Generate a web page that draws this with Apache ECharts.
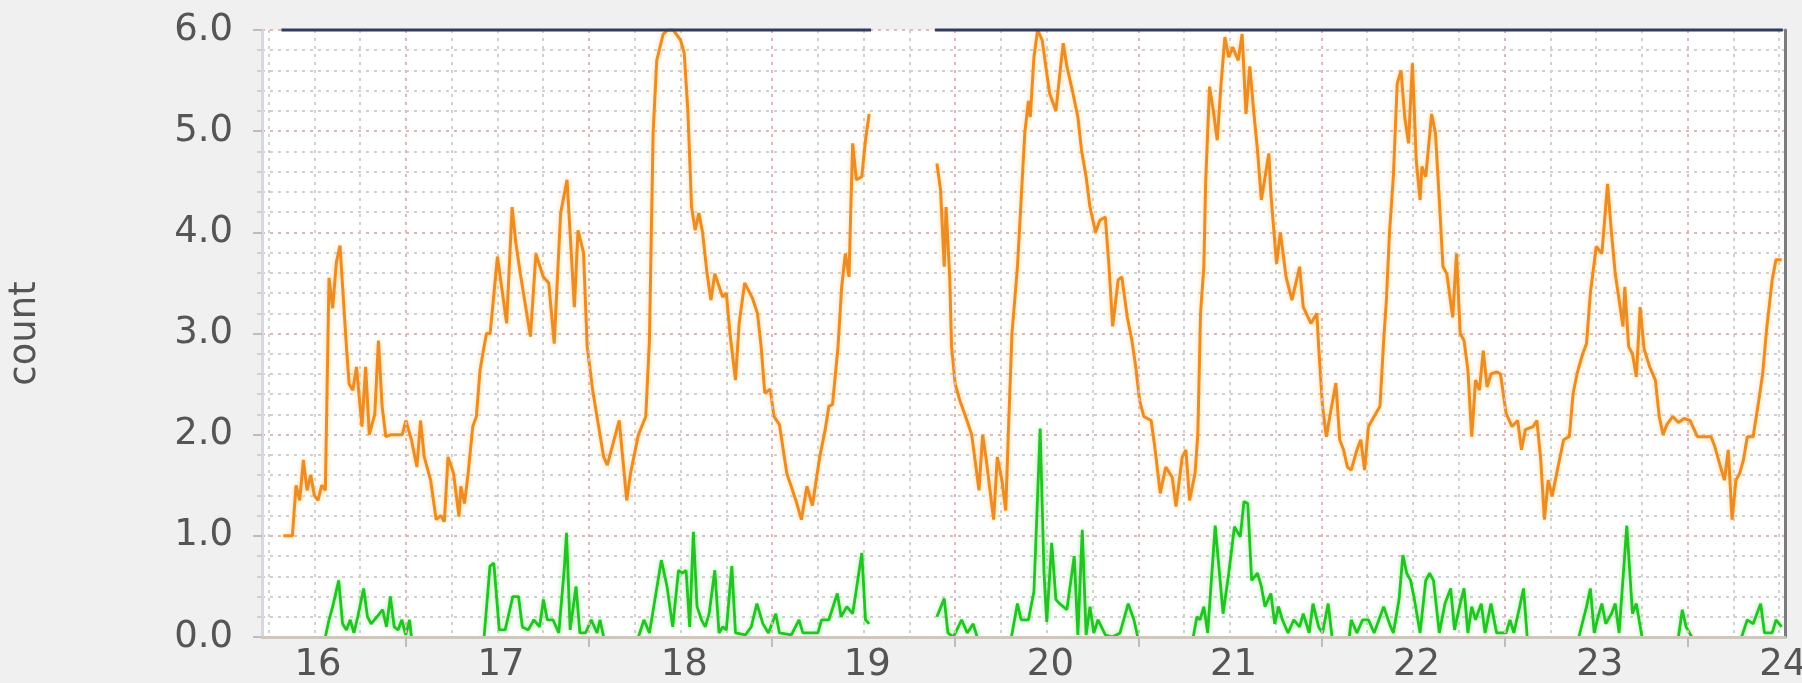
<!DOCTYPE html>
<html>
<head>
<meta charset="utf-8">
<title>count</title>
<script src="https://cdn.jsdelivr.net/npm/echarts@6/dist/echarts.min.js"></script>
<style>
  html, body { margin: 0; padding: 0; background: #f0f0f0; }
  #chart { width: 1802px; height: 683px; }
</style>
</head>
<body>
<div id="chart"></div>
<script>
// time is in days of the month, value is count
const dayLabels = [16, 17, 18, 19, 20, 21, 22, 23, 24];
const xMin = 15.694;
const xMax = 24.012;
const gapAt = 19.2;

const orangeBeforeGap = [
  [15.81, 1.0], [15.86, 1.0], [15.88, 1.5], [15.90, 1.35], [15.92, 1.75], [15.94, 1.45], [15.96, 1.6], [15.98, 1.4],
  [16.00, 1.35], [16.02, 1.5], [16.04, 1.45], [16.06, 3.55], [16.08, 3.25], [16.10, 3.7], [16.12, 3.87], [16.155, 2.87],
  [16.17, 2.5], [16.19, 2.44], [16.21, 2.67], [16.24, 2.08], [16.26, 2.67], [16.28, 2.0], [16.31, 2.2], [16.33, 2.93],
  [16.35, 2.28], [16.37, 1.98], [16.40, 2.0], [16.43, 2.0], [16.46, 2.0], [16.48, 2.14], [16.51, 1.95], [16.54, 1.68],
  [16.56, 2.14], [16.58, 1.78], [16.615, 1.55], [16.645, 1.16], [16.67, 1.2], [16.69, 1.14], [16.71, 1.78], [16.74, 1.62],
  [16.77, 1.19], [16.78, 1.49], [16.80, 1.32], [16.82, 1.62], [16.845, 2.08], [16.865, 2.18], [16.885, 2.64], [16.90, 2.8],
  [16.92, 3.0], [16.94, 3.0], [16.98, 3.76], [17.03, 3.1], [17.06, 4.25], [17.08, 3.9], [17.105, 3.59], [17.16, 2.97],
  [17.19, 3.79], [17.23, 3.56], [17.26, 3.5], [17.29, 2.9], [17.325, 4.19], [17.36, 4.52], [17.40, 3.26], [17.42, 4.02],
  [17.45, 3.8], [17.47, 2.87], [17.50, 2.44], [17.54, 2.0], [17.56, 1.78], [17.58, 1.7], [17.645, 2.14], [17.686, 1.35],
  [17.707, 1.62], [17.75, 2.0], [17.79, 2.18], [17.81, 2.93], [17.83, 4.98], [17.85, 5.7], [17.885, 5.96], [17.91, 6.0],
  [17.94, 6.0], [17.98, 5.9], [18.00, 5.77], [18.02, 5.2], [18.04, 4.25], [18.06, 4.02], [18.08, 4.19], [18.10, 4.0],
  [18.125, 3.59], [18.146, 3.33], [18.167, 3.59], [18.21, 3.36], [18.23, 3.4], [18.25, 3.0], [18.28, 2.54], [18.30, 3.1],
  [18.33, 3.5], [18.37, 3.36], [18.40, 3.2], [18.42, 2.87], [18.44, 2.41], [18.47, 2.45], [18.49, 2.18], [18.52, 2.1],
  [18.56, 1.62], [18.61, 1.35], [18.64, 1.16], [18.67, 1.49], [18.70, 1.3], [18.74, 1.78], [18.77, 2.05], [18.79, 2.28],
  [18.81, 2.3], [18.84, 2.87], [18.86, 3.46], [18.88, 3.79], [18.90, 3.56], [18.91, 4.25], [18.92, 4.88], [18.94, 4.52],
  [18.97, 4.55], [18.99, 4.91], [19.01, 5.17]
];

const orangeAfterGap = [
  [19.38, 4.68], [19.40, 4.42], [19.42, 3.66], [19.43, 4.25], [19.45, 3.56], [19.46, 2.87], [19.48, 2.5], [19.505, 2.34],
  [19.55, 2.11], [19.57, 2.0], [19.61, 1.45], [19.63, 2.0], [19.65, 1.75], [19.67, 1.45], [19.69, 1.16], [19.71, 1.78],
  [19.735, 1.55], [19.756, 1.25], [19.77, 2.0], [19.79, 3.0], [19.82, 3.66], [19.84, 4.32], [19.86, 4.98], [19.88, 5.3],
  [19.89, 5.14], [19.91, 5.73], [19.93, 6.0], [19.955, 5.9], [19.975, 5.64], [19.996, 5.37], [20.03, 5.2], [20.05, 5.54],
  [20.07, 5.87], [20.09, 5.64], [20.12, 5.4], [20.15, 5.14], [20.17, 4.81], [20.195, 4.55], [20.216, 4.25], [20.247, 4.0],
  [20.27, 4.12], [20.30, 4.15], [20.32, 3.66], [20.34, 3.07], [20.37, 3.53], [20.39, 3.56], [20.42, 3.16], [20.445, 2.93],
  [20.466, 2.67], [20.487, 2.34], [20.51, 2.18], [20.55, 2.14], [20.57, 1.88], [20.60, 1.42], [20.63, 1.68], [20.665, 1.58],
  [20.686, 1.29], [20.72, 1.78], [20.74, 1.85], [20.76, 1.35], [20.79, 1.62], [20.805, 2.0], [20.82, 3.2], [20.838, 3.66],
  [20.848, 4.5], [20.869, 5.44], [20.89, 5.2], [20.911, 4.91], [20.932, 5.47], [20.953, 5.93], [20.974, 5.73], [20.995, 5.83],
  [21.026, 5.7], [21.047, 5.96], [21.068, 5.17], [21.089, 5.64], [21.11, 5.2], [21.131, 4.81], [21.152, 4.32], [21.193, 4.78],
  [21.204, 4.38], [21.235, 3.69], [21.256, 4.0], [21.287, 3.56], [21.319, 3.33], [21.361, 3.66], [21.381, 3.26], [21.423, 3.1],
  [21.455, 3.2], [21.465, 2.87], [21.486, 2.28], [21.507, 1.98], [21.528, 2.2], [21.559, 2.51], [21.58, 1.95], [21.601, 1.85],
  [21.622, 1.68], [21.643, 1.65], [21.674, 1.85], [21.695, 1.95], [21.716, 1.65], [21.737, 2.08], [21.768, 2.18], [21.8, 2.28],
  [21.82, 2.93], [21.835, 3.33], [21.852, 4.0], [21.873, 4.55], [21.894, 5.47], [21.915, 5.6], [21.935, 5.14], [21.956, 4.88],
  [21.977, 5.67], [21.998, 4.71], [22.019, 4.32], [22.029, 4.65], [22.05, 4.55], [22.082, 5.17], [22.103, 4.98], [22.124, 4.32],
  [22.144, 3.66], [22.165, 3.59], [22.197, 3.16], [22.218, 3.79], [22.238, 3.0], [22.259, 2.93], [22.28, 2.64], [22.301, 1.98],
  [22.322, 2.54], [22.343, 2.44], [22.364, 2.83], [22.385, 2.47], [22.406, 2.6], [22.437, 2.62], [22.458, 2.6], [22.489, 2.21],
  [22.521, 2.08], [22.552, 2.14], [22.573, 1.85], [22.594, 2.05], [22.636, 2.08], [22.657, 2.14], [22.678, 1.75], [22.698, 1.16],
  [22.719, 1.55], [22.74, 1.39], [22.772, 1.68], [22.803, 1.95], [22.834, 1.98], [22.855, 2.41], [22.876, 2.6], [22.907, 2.8],
  [22.928, 2.9], [22.949, 3.4], [22.981, 3.86], [23.012, 3.79], [23.043, 4.48], [23.064, 4.0], [23.085, 3.59], [23.106, 3.33],
  [23.127, 3.07], [23.137, 3.46], [23.158, 2.87], [23.179, 2.8], [23.2, 2.57], [23.221, 3.26], [23.242, 2.85], [23.273, 2.67],
  [23.304, 2.54], [23.325, 2.18], [23.346, 2.0], [23.367, 2.1], [23.399, 2.18], [23.43, 2.12], [23.461, 2.16], [23.493, 2.14],
  [23.534, 1.98], [23.576, 1.98], [23.608, 1.98], [23.629, 1.88], [23.66, 1.68], [23.681, 1.55], [23.702, 1.85], [23.723, 1.16],
  [23.744, 1.55], [23.765, 1.62], [23.785, 1.75], [23.806, 1.98], [23.838, 1.98], [23.869, 2.34], [23.89, 2.6], [23.911, 3.03],
  [23.942, 3.53], [23.963, 3.73], [23.994, 3.73]
];

const greenBeforeGap = [
  [15.81, 0], [16.04, 0], [16.06, 0.17], [16.08, 0.3], [16.113, 0.56], [16.134, 0.13], [16.155, 0.07], [16.176, 0.17],
  [16.196, 0.04], [16.217, 0.2], [16.249, 0.48], [16.27, 0.2], [16.29, 0.13], [16.322, 0.2], [16.353, 0.27], [16.374, 0.1],
  [16.395, 0.4], [16.416, 0.1], [16.437, 0.07], [16.458, 0.17], [16.479, 0.02], [16.5, 0.17], [16.51, 0], [16.907, 0],
  [16.939, 0.7], [16.96, 0.73], [16.99, 0.07], [17.022, 0.07], [17.064, 0.4], [17.095, 0.4], [17.116, 0.1], [17.148, 0.07],
  [17.179, 0.17], [17.21, 0.1], [17.231, 0.37], [17.252, 0.17], [17.283, 0.17], [17.315, 0.04], [17.346, 0.7], [17.357, 1.03],
  [17.377, 0.07], [17.409, 0.5], [17.43, 0.04], [17.461, 0.04], [17.492, 0.17], [17.524, 0.04], [17.54, 0.17], [17.56, 0],
  [17.75, 0], [17.78, 0.17], [17.81, 0.04], [17.84, 0.37], [17.875, 0.76], [17.906, 0.5], [17.937, 0.1], [17.969, 0.66],
  [17.99, 0.63], [18.01, 0.66], [18.03, 0.1], [18.05, 1.04], [18.07, 0.3], [18.094, 0.17], [18.115, 0.1], [18.136, 0.23],
  [18.167, 0.66], [18.19, 0.04], [18.21, 0.1], [18.23, 0.07], [18.26, 0.7], [18.28, 0.04], [18.334, 0.02], [18.366, 0.1],
  [18.397, 0.33], [18.43, 0.13], [18.46, 0.04], [18.50, 0.23], [18.52, 0.04], [18.585, 0.02], [18.627, 0.17], [18.648, 0.04],
  [18.73, 0.04], [18.75, 0.17], [18.79, 0.17], [18.836, 0.43], [18.857, 0.2], [18.888, 0.3], [18.92, 0.23], [18.97, 0.83],
  [18.99, 0.17], [19.01, 0.13]
];

const greenAfterGap = [
  [19.38, 0.2], [19.42, 0.38], [19.44, 0.04], [19.47, 0], [19.515, 0.17], [19.546, 0.04], [19.578, 0.13], [19.6, 0],
  [19.787, 0], [19.82, 0.33], [19.84, 0.17], [19.88, 0.17], [19.91, 0.45], [19.944, 2.06], [19.965, 0.63], [19.98, 0.15],
  [20.007, 0.93], [20.03, 0.37], [20.05, 0.33], [20.09, 0.27], [20.13, 0.8], [20.15, 0.02], [20.174, 1.06], [20.195, 0.02],
  [20.216, 0.3], [20.237, 0.04], [20.26, 0.17], [20.3, 0.02], [20.34, 0], [20.38, 0.04], [20.425, 0.33], [20.456, 0.17],
  [20.477, 0], [20.78, 0], [20.80, 0.2], [20.817, 0.17], [20.838, 0.3], [20.859, 0.04], [20.90, 1.1], [20.943, 0.23],
  [20.974, 0.63], [21.005, 1.09], [21.037, 0.99], [21.057, 1.34], [21.078, 1.32], [21.099, 0.56], [21.131, 0.63], [21.152, 0.5],
  [21.172, 0.3], [21.204, 0.43], [21.225, 0.13], [21.246, 0.3], [21.267, 0.17], [21.298, 0.04], [21.329, 0.17], [21.361, 0.1],
  [21.381, 0.23], [21.413, 0.04], [21.434, 0.33], [21.465, 0.1], [21.486, 0.04], [21.517, 0.33], [21.538, 0], [21.632, 0],
  [21.643, 0.17], [21.674, 0.04], [21.705, 0.17], [21.737, 0.17], [21.768, 0.04], [21.82, 0.3], [21.852, 0.13], [21.873, 0.04],
  [21.904, 0.37], [21.925, 0.81], [21.946, 0.63], [21.967, 0.56], [21.988, 0.37], [22.019, 0.04], [22.05, 0.56], [22.071, 0.63],
  [22.092, 0.56], [22.124, 0.04], [22.155, 0.33], [22.186, 0.48], [22.207, 0.07], [22.238, 0.33], [22.259, 0.48], [22.28, 0.04],
  [22.301, 0.3], [22.322, 0.17], [22.353, 0.33], [22.374, 0.04], [22.406, 0.33], [22.437, 0.04], [22.489, 0.04], [22.51, 0.17],
  [22.531, 0.04], [22.563, 0.3], [22.584, 0.48], [22.604, 0], [22.886, 0], [22.928, 0.3], [22.949, 0.48], [22.97, 0.04],
  [22.991, 0.2], [23.012, 0.33], [23.033, 0.13], [23.064, 0.23], [23.085, 0.33], [23.106, 0.04], [23.148, 1.1], [23.179, 0.23],
  [23.2, 0.33], [23.231, 0], [23.43, 0], [23.451, 0.27], [23.472, 0.1], [23.503, 0], [23.775, 0], [23.806, 0.17],
  [23.838, 0.13], [23.879, 0.33], [23.9, 0.04], [23.942, 0.04], [23.963, 0.17], [23.994, 0.1]
];

// third line sits at or above the top of the scale
const topBeforeGap = [[15.80, 6], [19.02, 6]];
const topAfterGap = [[19.37, 6], [24.0, 6]];

// grid: major lines every day, minor every 6 hours
const majorLines = [];
for (let d = 16; d <= 23; d++) majorLines.push(d + 0.48);
const minorLines = [];
for (let k = 0; 15.73 + k * 0.25 < xMax; k++) minorLines.push(+(15.73 + k * 0.25).toFixed(2));

const withGap = (a, b) => a.concat([[gapAt, null]], b);

// a run of zeros lies under the axis line, so leave it undrawn
function hideZeroRuns(points) {
  const out = [];
  points.forEach((p, i) => {
    const prev = points[i - 1];
    if (prev && prev[1] === 0 && p[1] === 0) out.push([(prev[0] + p[0]) / 2, null]);
    out.push(p);
  });
  return out;
}

const textFont = 'DejaVu Sans';
const majorGrid = { color: '#dcb8b8', width: 2, type: [3, 5] };
const minorGrid = { color: '#d0d0d0', width: 2, type: [3, 5] };

const myChart = echarts.init(document.getElementById('chart'));
const option = {
  backgroundColor: '#f0f0f0',
  animation: false,
  grid: {
    left: 262, right: 17, top: 30, bottom: 46,
    show: true, backgroundColor: '#ffffff', borderWidth: 0,
    containLabel: false, outerBoundsMode: 'none'
  },
  xAxis: [
    {
      type: 'value', min: xMin, max: xMax, z: 3,
      axisLine: { show: true, onZero: false, lineStyle: { color: '#cfc7be', width: 3 } },
      axisTick: { show: true, customValues: majorLines, length: 10, lineStyle: { color: '#bdbdbd', width: 2 } },
      axisLabel: {
        customValues: dayLabels,
        formatter: v => String(Math.round(v)),
        fontSize: 37, color: '#555', fontFamily: textFont, margin: 10
      },
      splitLine: { show: true, lineStyle: majorGrid }
    },
    {
      type: 'value', min: xMin, max: xMax, position: 'top',
      axisLine: { show: false },
      axisLabel: { show: false },
      axisTick: { show: false, customValues: minorLines },
      splitLine: { show: true, lineStyle: minorGrid }
    }
  ],
  yAxis: [
    {
      type: 'value', min: 0, max: 6, interval: 1,
      name: 'count', nameLocation: 'middle', nameRotate: 90, nameGap: 218,
      nameTextStyle: { fontSize: 37, color: '#555', fontFamily: textFont },
      axisLine: { show: true, lineStyle: { color: '#d6d6e6', width: 3 } },
      axisTick: { show: true, length: 9, lineStyle: { color: '#bdbdbd', width: 2 } },
      minorTick: { show: true, splitNumber: 5, length: 5, lineStyle: { color: '#d0d0d0', width: 2 } },
      axisLabel: {
        formatter: v => v.toFixed(1),
        fontSize: 37, color: '#555', fontFamily: textFont, margin: 29
      },
      splitLine: { show: true, lineStyle: majorGrid },
      minorSplitLine: { show: true, lineStyle: minorGrid }
    },
    {
      type: 'value', min: 0, max: 6, position: 'right',
      axisLine: { show: true, lineStyle: { color: '#7c7c7c', width: 3 } },
      axisTick: { show: false },
      axisLabel: { show: false },
      splitLine: { show: false }
    }
  ],
  series: [
    {
      name: 'green', type: 'line', xAxisIndex: 0, yAxisIndex: 0,
      data: hideZeroRuns(withGap(greenBeforeGap, greenAfterGap)),
      symbol: 'none', connectNulls: false, z: 2,
      lineStyle: { color: '#22c322', width: 2.8, shadowColor: 'rgba(130,240,130,0.8)', shadowBlur: 5 }
    },
    {
      name: 'orange', type: 'line', xAxisIndex: 0, yAxisIndex: 0,
      data: withGap(orangeBeforeGap, orangeAfterGap),
      symbol: 'none', connectNulls: false, z: 2,
      lineStyle: { color: '#ec8c25', width: 3, shadowColor: 'rgba(255,205,120,0.85)', shadowBlur: 5 }
    },
    {
      name: 'top', type: 'line', xAxisIndex: 0, yAxisIndex: 0,
      data: withGap(topBeforeGap, topAfterGap),
      symbol: 'none', connectNulls: false, clip: false, z: 4,
      lineStyle: { color: '#2f3d60', width: 3 }
    }
  ]
};

myChart.setOption(option);
window.addEventListener('resize', function () {
  myChart.resize();
});
</script>
</body>
</html>
